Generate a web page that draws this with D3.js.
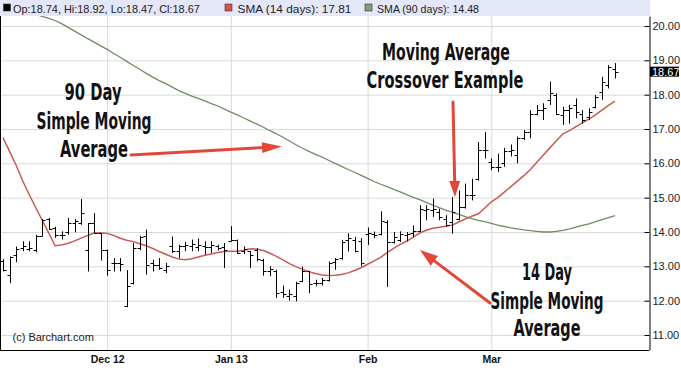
<!DOCTYPE html>
<html>
<head>
<meta charset="utf-8">
<script src="https://cdn.jsdelivr.net/npm/d3@7"></script>
<style>
body { margin: 0; background: #fff; }
svg { display: block; font-family: "Liberation Sans", Arial, sans-serif; }
.note { font-family: "Liberation Sans Narrow", "DejaVu Sans Condensed", sans-serif; font-weight: bold; font-size: 23px; fill: #111; }
</style>
</head>
<body>
<script>
// trading days shown on the chart
var dates = [
  "2012-11-08","2012-11-09","2012-11-12","2012-11-13","2012-11-14","2012-11-15","2012-11-16","2012-11-19","2012-11-20","2012-11-21",
  "2012-11-23","2012-11-26","2012-11-27","2012-11-28","2012-11-29","2012-11-30",
  "2012-12-03","2012-12-04","2012-12-05","2012-12-06","2012-12-07","2012-12-10","2012-12-11","2012-12-12","2012-12-13","2012-12-14",
  "2012-12-17","2012-12-18","2012-12-19","2012-12-20","2012-12-21","2012-12-26","2012-12-27","2012-12-28","2012-12-31",
  "2013-01-02","2013-01-03","2013-01-04","2013-01-07","2013-01-08","2013-01-09","2013-01-10","2013-01-11","2013-01-14","2013-01-15",
  "2013-01-16","2013-01-17","2013-01-18","2013-01-22","2013-01-23","2013-01-24","2013-01-25","2013-01-28","2013-01-29","2013-01-30","2013-01-31",
  "2013-02-01","2013-02-04","2013-02-05","2013-02-06","2013-02-07","2013-02-08","2013-02-11","2013-02-12","2013-02-13","2013-02-14",
  "2013-02-15","2013-02-19","2013-02-20","2013-02-21","2013-02-22","2013-02-25","2013-02-26","2013-02-27","2013-02-28",
  "2013-03-01","2013-03-04","2013-03-05","2013-03-06","2013-03-07","2013-03-08","2013-03-11","2013-03-12","2013-03-13","2013-03-14",
  "2013-03-15","2013-03-18","2013-03-19","2013-03-20","2013-03-21","2013-03-22","2013-03-25","2013-03-26","2013-03-27","2013-03-28"
];

var opens = [13.15,12.76,13.32,13.53,13.50,13.49,13.87,14.38,14.12,13.92,13.99,14.26,14.26,13.49,14.26,13.97,13.47,13.10,13.10,11.85,
  12.50,13.53,13.87,13.10,13.05,12.90,13.58,13.44,13.60,13.60,13.55,13.58,13.55,13.58,13.55,13.75,13.76,13.45,13.44,13.48,
  13.19,12.85,12.85,12.25,12.15,12.15,12.57,12.86,12.50,12.52,12.60,13.12,13.24,13.77,13.77,13.75,13.93,13.95,13.95,14.30,
  13.70,13.76,13.92,13.97,14.02,14.63,14.63,14.58,14.39,14.29,14.39,14.73,15.07,15.55,16.38,16.04,15.89,16.00,16.35,16.25,
  16.75,16.92,17.45,17.55,17.85,18.00,17.40,17.55,17.70,17.45,17.35,17.65,18.09,18.28,18.74];
var highs = [13.21,13.29,13.58,13.73,13.73,13.92,14.38,14.41,14.15,14.02,14.41,14.38,14.96,14.26,14.55,13.97,13.49,13.24,13.24,12.89,
  13.68,13.89,14.07,13.19,13.24,13.10,13.87,13.63,13.71,13.78,13.81,13.73,13.73,13.63,13.68,14.17,13.78,13.58,13.44,13.53,
  13.22,13.00,12.90,12.44,12.32,12.55,12.99,12.87,12.61,12.66,13.14,13.24,13.77,13.96,13.86,13.82,14.13,14.01,14.60,14.34,
  14.00,14.02,14.00,14.19,14.78,14.78,14.97,14.68,14.49,15.02,15.21,15.41,15.55,16.62,16.91,16.14,16.28,16.45,16.55,16.78,
  16.97,17.55,17.70,17.75,18.38,18.04,17.65,17.70,17.89,17.55,17.60,17.99,18.52,18.86,18.92];
var lows = [12.85,12.51,13.12,13.44,13.44,13.41,13.87,14.07,13.83,13.78,13.92,13.99,14.21,12.85,13.97,13.17,12.73,12.85,12.85,11.81,
  12.47,13.47,12.76,12.85,12.90,12.80,13.39,13.24,13.44,13.44,13.44,13.34,13.39,13.46,12.95,13.73,13.36,13.36,12.95,13.14,
  12.73,12.71,12.08,12.08,12.00,11.98,12.54,12.22,12.42,12.44,12.56,12.90,13.19,13.43,13.41,13.00,13.62,13.82,13.90,12.40,
  13.66,13.71,13.73,13.85,14.00,14.34,14.44,14.34,14.15,13.95,14.34,14.68,14.92,15.50,16.14,15.80,15.75,15.90,16.20,16.00,
  16.68,16.73,17.40,17.26,17.70,17.41,17.12,17.16,17.31,17.16,17.26,17.60,17.85,18.18,18.47];
var closes = [12.90,13.26,13.50,13.58,13.53,13.87,14.36,14.09,13.92,13.92,14.26,14.31,14.55,14.26,13.97,13.49,12.90,13.10,13.08,12.43,
  13.53,13.86,13.05,13.05,12.95,13.00,13.44,13.58,13.63,13.65,13.63,13.55,13.63,13.53,13.47,13.76,13.39,13.50,13.34,13.22,
  12.85,12.93,12.22,12.20,12.20,12.50,12.85,12.48,12.52,12.60,13.09,13.20,13.72,13.82,13.45,13.10,13.96,13.90,14.31,13.70,
  13.85,13.95,13.95,14.02,14.68,14.68,14.68,14.44,14.19,14.58,14.73,15.07,15.07,16.38,16.38,15.89,15.90,16.35,16.40,16.75,
  16.92,17.45,17.55,17.60,18.05,17.45,17.55,17.60,17.50,17.26,17.50,17.94,18.38,18.82,18.67];

var sma14 = [16.75,16.35,15.95,15.50,15.10,14.72,14.35,13.98,13.60,13.62,13.67,13.74,13.82,13.90,13.97,13.98,13.96,13.90,13.82,13.76,
  13.72,13.66,13.60,13.52,13.43,13.35,13.27,13.21,13.19,13.22,13.27,13.32,13.36,13.40,13.43,13.44,13.44,13.47,13.51,13.50,
  13.46,13.38,13.29,13.19,13.08,12.99,12.91,12.84,12.79,12.75,12.73,12.74,12.76,12.81,12.88,12.96,13.06,13.16,13.26,13.40,
  13.52,13.64,13.73,13.85,13.97,14.05,14.11,14.14,14.17,14.20,14.29,14.38,14.46,14.53,14.70,14.88,15.00,15.16,15.32,15.48,
  15.64,15.82,16.03,16.24,16.45,16.66,16.86,16.95,17.07,17.18,17.29,17.41,17.55,17.69,17.81];
var sma90 = [20.75,20.66,20.57,20.49,20.41,20.34,20.28,20.22,20.16,20.07,19.96,19.85,19.74,19.63,19.53,19.42,19.32,19.20,19.09,18.97,
  18.85,18.74,18.62,18.51,18.41,18.32,18.22,18.12,18.04,17.96,17.89,17.82,17.74,17.67,17.58,17.49,17.41,17.32,17.23,17.14,
  17.05,16.95,16.86,16.76,16.65,16.54,16.44,16.35,16.26,16.18,16.09,16.00,15.91,15.82,15.74,15.65,15.56,15.47,15.39,15.32,
  15.24,15.17,15.09,15.01,14.94,14.86,14.78,14.71,14.64,14.58,14.51,14.45,14.39,14.34,14.30,14.25,14.20,14.16,14.12,14.09,
  14.06,14.04,14.02,14.00,14.00,14.02,14.05,14.09,14.14,14.19,14.24,14.30,14.36,14.42,14.48];

var monthTicks = ["2012-12-03","2013-01-02","2013-02-01","2013-03-01"];
var monthLabels = ["Dec 12","Jan 13","Feb","Mar"];
var priceTicks = [11,12,13,14,15,16,17,18,19,20];

var width = 681, height = 371;
var plotLeft = 0, plotRight = 649, plotTop = 16, plotBottom = 350;

var x = d3.scalePoint().domain(dates).range([3, 615]);
var y = d3.scaleLinear().domain([10.563, 20.291]).range([plotBottom, plotTop]);

var bars = dates.map(function(d, i) {
  return {date: d, open: opens[i], high: highs[i], low: lows[i], close: closes[i]};
});

var svg = d3.select("body").append("svg")
  .attr("width", width)
  .attr("height", height);

svg.append("clipPath").attr("id", "plotclip")
  .append("rect").attr("x", plotLeft).attr("y", plotTop)
  .attr("width", plotRight - plotLeft).attr("height", plotBottom - plotTop);

// squeeze a text horizontally so it spans w pixels
function fitWidth(sel) {
  sel.each(function(d) {
    var w0 = this.getComputedTextLength();
    d3.select(this).attr("transform",
      "translate(" + d.x + "," + d.y + ") scale(" + (d.w / w0) + ",1)");
  });
}

// header strip with the last values
svg.append("rect").attr("x", 0).attr("y", 0).attr("width", plotRight + 1).attr("height", plotTop)
  .attr("fill", "#e4e7f7");

var legend = [
  {sq: 3.5, x: 13, y: 12.5, w: 187, fill: "#000", text: "Op:18.74, Hi:18.92, Lo:18.47, Cl:18.67"},
  {sq: 225, x: 237.5, y: 12.5, w: 114, fill: "#d9534a", text: "SMA (14 days): 17.81"},
  {sq: 365, x: 377, y: 12.5, w: 102, fill: "#869e78", text: "SMA (90 days): 14.48"}
];
var lg = svg.append("g").selectAll("g").data(legend).enter().append("g");
lg.append("rect").attr("x", function(d) { return d.sq; }).attr("y", 4).attr("width", 7).attr("height", 7)
  .attr("fill", function(d) { return d.fill; }).attr("stroke", "#333").attr("stroke-width", 0.6);
lg.append("text").attr("font-size", 10.5).attr("fill", "#222")
  .text(function(d) { return d.text; })
  .call(fitWidth);

// grid
var yGrid = d3.axisRight(y).tickValues(priceTicks).tickSize(-plotRight).tickFormat("");
svg.append("g").attr("class", "grid").attr("transform", "translate(" + plotRight + ",0)").call(yGrid)
  .call(function(g) {
    g.select(".domain").remove();
    g.selectAll("line").attr("stroke", "#d9d9d9");
  });

var xAxis = d3.axisBottom(x).tickValues(monthTicks).tickSize(-(plotBottom - plotTop)).tickPadding(6)
  .tickFormat(function(d, i) { return monthLabels[i]; });
svg.append("g").attr("transform", "translate(0," + plotBottom + ")").call(xAxis)
  .call(function(g) {
    g.select(".domain").remove();
    g.selectAll("line").attr("stroke", "#d9d9d9");
    g.selectAll("text").attr("font-family", "Liberation Sans, Arial, sans-serif")
      .attr("font-size", 10.5).attr("font-weight", "bold").attr("fill", "#111");
  });

// SMA lines
var plot = svg.append("g").attr("clip-path", "url(#plotclip)");
var line = d3.line()
  .x(function(d, i) { return x(dates[i]); })
  .y(function(d) { return y(d); });
plot.append("path").attr("d", line(sma90)).attr("fill", "none")
  .attr("stroke", "#6f8d62").attr("stroke-width", 1.3);
plot.append("path").attr("d", line(sma14)).attr("fill", "none")
  .attr("stroke", "#c95a55").attr("stroke-width", 1.5);

// OHLC bars
var bar = plot.selectAll("g.bar").data(bars).enter().append("g").attr("class", "bar")
  .attr("stroke", "#000").attr("stroke-width", 1);
bar.append("line")
  .attr("x1", function(d) { return Math.round(x(d.date)) + 0.5; })
  .attr("x2", function(d) { return Math.round(x(d.date)) + 0.5; })
  .attr("y1", function(d) { return y(d.high); })
  .attr("y2", function(d) { return y(d.low); });
bar.append("line")
  .attr("x1", function(d) { return Math.round(x(d.date)) - 2.5; })
  .attr("x2", function(d) { return Math.round(x(d.date)) + 0.5; })
  .attr("y1", function(d) { return Math.round(y(d.open)) + 0.5; })
  .attr("y2", function(d) { return Math.round(y(d.open)) + 0.5; });
bar.append("line")
  .attr("x1", function(d) { return Math.round(x(d.date)) + 0.5; })
  .attr("x2", function(d) { return Math.round(x(d.date)) + 3.5; })
  .attr("y1", function(d) { return Math.round(y(d.close)) + 0.5; })
  .attr("y2", function(d) { return Math.round(y(d.close)) + 0.5; });

// frame
svg.append("line").attr("x1", 0.5).attr("x2", 0.5).attr("y1", plotTop).attr("y2", plotBottom)
  .attr("stroke", "#000");
svg.append("line").attr("x1", 0).attr("x2", plotRight).attr("y1", plotBottom + 0.5).attr("y2", plotBottom + 0.5)
  .attr("stroke", "#000");

// right price axis
var yAxis = d3.axisRight(y).tickValues(priceTicks).tickSize(-5).tickSizeOuter(0).tickPadding(3)
  .tickFormat(d3.format(".2f"));
svg.append("g").attr("transform", "translate(" + (plotRight + 0.5) + ",0)").call(yAxis)
  .call(function(g) {
    g.select(".domain").attr("stroke", "#000");
    g.selectAll("line").attr("stroke", "#000");
    g.selectAll("text").attr("font-family", "Liberation Sans, Arial, sans-serif")
      .attr("font-size", 11).attr("fill", "#222");
  });

// last price flag
var last = closes[closes.length - 1];
svg.append("rect").attr("x", plotRight + 1).attr("y", y(last) - 5).attr("width", 29).attr("height", 10)
  .attr("fill", "#000");
svg.append("text").attr("x", plotRight + 3).attr("y", y(last) + 4)
  .attr("font-size", 11).attr("fill", "#fff").text(d3.format(".2f")(last));

svg.append("text").attr("x", 12.5).attr("y", 341).attr("font-size", 11).attr("fill", "#222")
  .text("(c) Barchart.com");

// annotations
var notes = [
  {x: 93, y: 100, w: 57, text: "90 Day"},
  {x: 94, y: 129, w: 115, text: "Simple Moving"},
  {x: 94, y: 157, w: 68, text: "Average"},
  {x: 446, y: 60, w: 128, text: "Moving Average"},
  {x: 445, y: 87.5, w: 157, text: "Crossover Example"},
  {x: 547, y: 280, w: 50, text: "14 Day"},
  {x: 547, y: 309, w: 113, text: "Simple Moving"},
  {x: 547, y: 336, w: 67, text: "Average"}
];
svg.append("g").selectAll("text").data(notes).enter().append("text")
  .attr("class", "note")
  .attr("text-anchor", "middle")
  .text(function(d) { return d.text; })
  .call(fitWidth);

var arrows = [
  {x1: 131, y1: 155, x2: 282, y2: 146.5, len: 20, half: 5.5},
  {x1: 453, y1: 102, x2: 455, y2: 197, len: 16, half: 5.5},
  {x1: 490, y1: 303, x2: 420, y2: 250, len: 18, half: 6}
];
var ag = svg.append("g").attr("fill", "#e2483a").attr("stroke", "#e2483a");
arrows.forEach(function(a) {
  var dx = a.x2 - a.x1, dy = a.y2 - a.y1, n = Math.sqrt(dx * dx + dy * dy);
  var ux = dx / n, uy = dy / n;
  var bx = a.x2 - ux * a.len, by = a.y2 - uy * a.len;
  ag.append("line").attr("x1", a.x1).attr("y1", a.y1).attr("x2", bx).attr("y2", by)
    .attr("stroke-width", 3).attr("stroke-linecap", "round");
  ag.append("path").attr("stroke", "none")
    .attr("d", "M" + a.x2 + "," + a.y2 +
      "L" + (bx - uy * a.half) + "," + (by + ux * a.half) +
      "L" + (bx + uy * a.half) + "," + (by - ux * a.half) + "Z");
});
</script>
</body>
</html>
